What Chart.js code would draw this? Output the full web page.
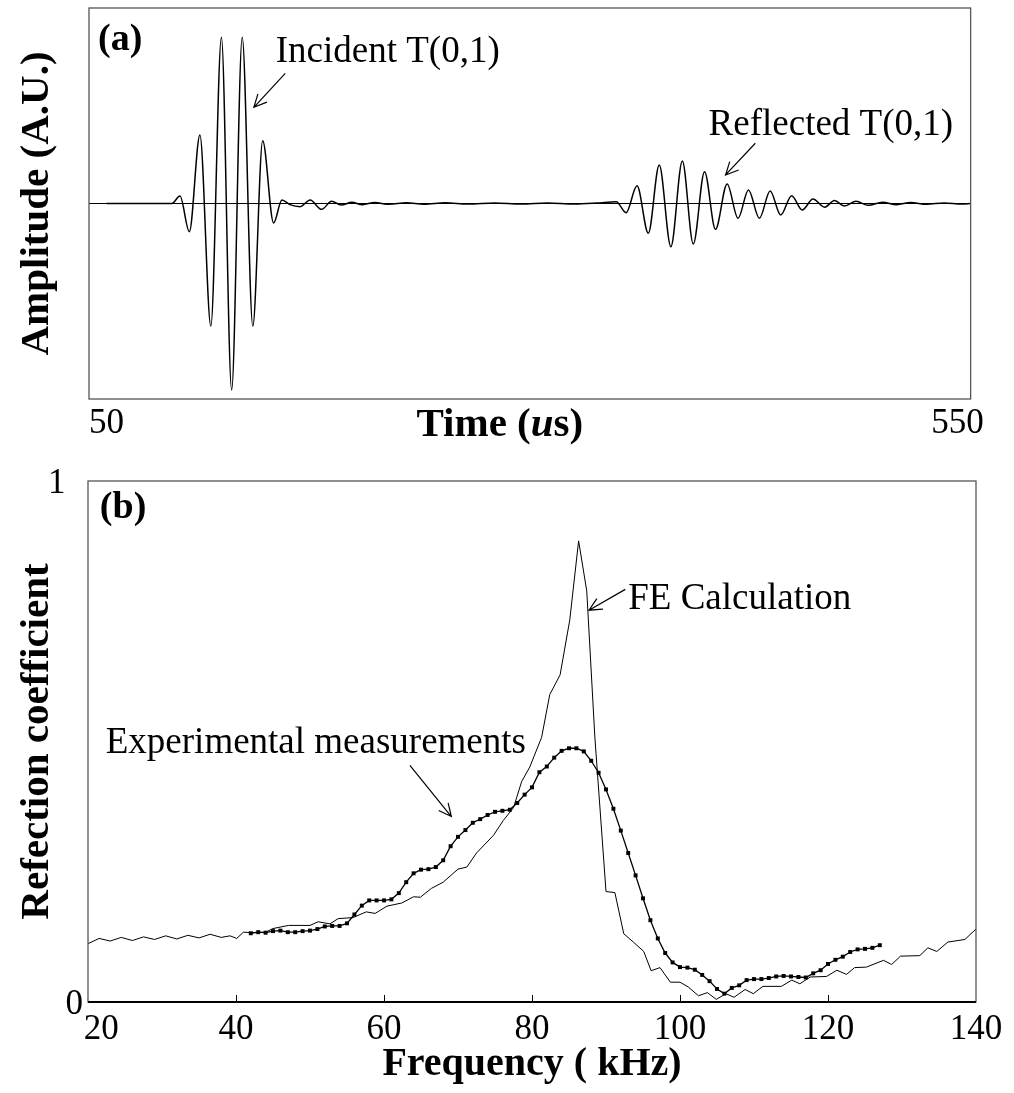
<!DOCTYPE html>
<html>
<head>
<meta charset="utf-8">
<script src="https://cdn.jsdelivr.net/npm/chart.js@4.4.1/dist/chart.umd.min.js"></script>
<style>
html, body { margin: 0; padding: 0; background: #fff; }
#wrap { position: relative; width: 1014px; height: 1093px; }
canvas { position: absolute; left: 0; }
#timeChart { top: 0; }
#freqChart { top: 455px; }
</style>
</head>
<body>
<div id="wrap">
  <canvas id="timeChart" width="1014" height="455"></canvas>
  <canvas id="freqChart" width="1014" height="638"></canvas>
</div>
<script>
const SERIF = "'Liberation Serif', 'Times New Roman', serif";
Chart.defaults.color = "#000";
Chart.defaults.font.family = SERIF;

// (a) time trace at its peaks and troughs
const timeUs = [60, 97, 101.6, 106.9, 112.9, 119.1, 125.1, 130.9, 136.9, 142.9, 148.5, 154.7, 159.4,
  164.0, 169.8, 175.4, 181.9, 187.6, 193.0, 199, 205, 212, 220, 230, 240, 252, 265, 280, 295, 310, 325, 338,
  349.0, 354.6, 360.8, 367.2, 373.4, 380.0, 386.5, 392.7, 399.1, 405.3, 411.9, 418.1, 424.0, 430.2,
  436.3, 442.3, 448.5, 454.5, 460.6, 467.2, 472.8, 478.5, 485.0, 492, 500, 508, 516, 525, 535, 545, 550];
const amplitude = [0, 0, 0.038, -0.144, 0.350, -0.627, 0.851, -0.954, 0.851, -0.627, 0.321, -0.100, 0.018,
  -0.006, -0.016, 0.018, -0.030, 0.011, -0.008, 0.006, -0.006, 0.005, -0.004, 0.004, -0.004, 0.004, -0.003, 0.003, -0.003, 0.003, -0.003, 0.002,
  0.009, -0.047, 0.091, -0.152, 0.197, -0.221, 0.217, -0.207, 0.163, -0.132, 0.100, -0.076, 0.069, -0.076,
  0.064, -0.059, 0.040, -0.033, 0.023, -0.019, 0.015, -0.013, 0.011, -0.009, 0.007, -0.006, 0.005, -0.004, 0.003, -0.003, 0];
const timeTicks = [50, 550];

// (b) reflection coefficient vs frequency
const feFreq = [20, 21.5, 23, 24.5, 26, 27.5, 29, 30.5, 32, 33.5, 35, 36.5, 38, 39.2, 40.1, 41, 42.5, 44, 45,
  47.1, 50, 51.1, 52.7, 53.8, 55.8, 57.6, 58.8, 60.4, 62.4, 64.0, 64.9, 66.4, 68.0, 70.0, 71.2, 72.5, 74.8,
  76.1, 77.5, 78.6, 79.7, 81.3, 82.4, 83.8, 85.1, 86.3, 87.4, 88.5, 90.0, 91.2, 92.4, 93.7, 95.1, 96.1, 97.3,
  98.7, 100, 101.1, 102.5, 103.7, 104.9, 106.2, 107.3, 108.8, 109.9, 111.2, 113.7, 115.1, 116.2, 117.6, 119.8,
  121.2, 122.5, 123.6, 125.2, 127.5, 128.6, 129.8, 132.4, 133.5, 134.7, 136.2, 138.5, 140];
const feRefl = [0.112, 0.122, 0.117, 0.124, 0.118, 0.125, 0.120, 0.127, 0.121, 0.128, 0.123, 0.130, 0.124, 0.127, 0.122, 0.134, 0.133, 0.134, 0.141,
  0.147, 0.147, 0.154, 0.150, 0.160, 0.162, 0.173, 0.170, 0.184, 0.190, 0.202, 0.201, 0.218, 0.230, 0.255, 0.259, 0.286, 0.320,
  0.348, 0.373, 0.423, 0.451, 0.508, 0.590, 0.628, 0.733, 0.885, 0.789, 0.507, 0.212, 0.210, 0.131, 0.115, 0.097, 0.060, 0.066,
  0.038, 0.038, 0.029, 0.012, 0.018, 0.005, 0.016, 0.009, 0.024, 0.016, 0.030, 0.030, 0.042, 0.035, 0.048, 0.049,
  0.061, 0.053, 0.066, 0.067, 0.080, 0.072, 0.088, 0.089, 0.104, 0.097, 0.115, 0.120, 0.140];
const expFreq = [42, 43, 44, 45, 46, 47, 48, 49, 50, 51, 52, 53, 54, 55, 56, 57, 58, 59, 60, 61, 62, 63, 64, 65,
  66, 67, 68, 69, 70, 71, 72, 73, 74, 75, 76, 77, 78, 79, 80, 81, 82, 83, 84, 85, 86, 87, 88, 89, 90, 91, 92,
  93, 94, 95, 96, 97, 98, 99, 100, 101, 102, 103, 104, 105, 106, 107, 108, 109, 110, 111, 112, 113, 114, 115,
  116, 117, 118, 119, 120, 121, 122, 123, 124, 125, 126, 127];
const expRefl = [0.132, 0.134, 0.133, 0.136, 0.137, 0.134, 0.134, 0.136, 0.137, 0.140, 0.145, 0.146, 0.146, 0.151,
  0.168, 0.185, 0.195, 0.195, 0.195, 0.197, 0.209, 0.230, 0.247, 0.254, 0.255, 0.259, 0.272, 0.299, 0.317, 0.330,
  0.344, 0.351, 0.359, 0.365, 0.367, 0.369, 0.382, 0.398, 0.412, 0.441, 0.452, 0.469, 0.482, 0.487, 0.487, 0.481,
  0.463, 0.440, 0.408, 0.371, 0.329, 0.286, 0.243, 0.199, 0.157, 0.122, 0.094, 0.076, 0.067, 0.066, 0.062, 0.052,
  0.040, 0.025, 0.016, 0.027, 0.032, 0.042, 0.044, 0.044, 0.046, 0.049, 0.050, 0.049, 0.048, 0.047, 0.055, 0.061,
  0.073, 0.081, 0.087, 0.096, 0.101, 0.102, 0.104, 0.109];
const freqTicks = [20, 40, 60, 80, 100, 120, 140];
const reflTicks = [0, 1];

function toPoints(xs, ys) {
  return xs.map((x, i) => ({ x: x, y: ys[i] }));
}

// frame round the plot area, optional heavy x axis and inner tick marks
const box = {
  id: "box",
  afterDatasetsDraw(chart, args, opts) {
    const a = chart.chartArea, ctx = chart.ctx;
    ctx.save();
    ctx.strokeStyle = "#555";
    ctx.lineWidth = 1.3;
    ctx.strokeRect(a.left, a.top, a.right - a.left, a.bottom - a.top);
    if (opts.heavyAxis) {
      ctx.strokeStyle = "#000";
      ctx.lineWidth = 2.2;
      ctx.beginPath();
      ctx.moveTo(a.left, a.bottom);
      ctx.lineTo(a.right, a.bottom);
      ctx.stroke();
      ctx.lineWidth = 1;
      const sx = chart.scales.x;
      sx.ticks.forEach(t => {
        const px = Math.round(sx.getPixelForValue(t.value)) + 0.5;
        if (px < a.left + 2 || px > a.right - 2) return;
        ctx.beginPath();
        ctx.moveTo(px, a.bottom);
        ctx.lineTo(px, a.bottom - 7);
        ctx.stroke();
      });
    }
    ctx.restore();
  }
};

// text labels and arrows placed in data units
function notes(texts, arrows) {
  return {
    id: "notes",
    afterDraw(chart) {
      const ctx = chart.ctx, sx = chart.scales.x, sy = chart.scales.y;
      ctx.save();
      ctx.fillStyle = "#000";
      ctx.strokeStyle = "#000";
      ctx.textAlign = "left";
      ctx.textBaseline = "alphabetic";
      texts.forEach(t => {
        ctx.font = t.font;
        ctx.fillText(t.text, sx.getPixelForValue(t.x), sy.getPixelForValue(t.y));
      });
      ctx.lineWidth = 1.2;
      arrows.forEach(ar => {
        const x1 = sx.getPixelForValue(ar.from[0]), y1 = sy.getPixelForValue(ar.from[1]);
        const x2 = sx.getPixelForValue(ar.to[0]), y2 = sy.getPixelForValue(ar.to[1]);
        const ang = Math.atan2(y2 - y1, x2 - x1);
        ctx.beginPath();
        ctx.moveTo(x1, y1);
        ctx.lineTo(x2, y2);
        ctx.moveTo(x2 - 14 * Math.cos(ang - 0.45), y2 - 14 * Math.sin(ang - 0.45));
        ctx.lineTo(x2, y2);
        ctx.lineTo(x2 - 14 * Math.cos(ang + 0.45), y2 - 14 * Math.sin(ang + 0.45));
        ctx.stroke();
      });
      ctx.restore();
    }
  };
}

// "Time (us)" with an italic u, on the tick-label line
const timeTitle = {
  id: "timeTitle",
  afterDraw(chart) {
    const ctx = chart.ctx, a = chart.chartArea, sx = chart.scales.x;
    const parts = [["Time (", "bold 41px " + SERIF], ["u", "italic bold 41px " + SERIF], ["s)", "bold 41px " + SERIF]];
    ctx.save();
    let w = 0;
    parts.forEach(p => { ctx.font = p[1]; w += ctx.measureText(p[0]).width; });
    let x = sx.getPixelForValue(283) - w / 2;
    ctx.fillStyle = "#000";
    ctx.textAlign = "left";
    ctx.textBaseline = "alphabetic";
    parts.forEach(p => {
      ctx.font = p[1];
      ctx.fillText(p[0], x, a.bottom + 37);
      x += ctx.measureText(p[0]).width;
    });
    ctx.restore();
  }
};

new Chart(document.getElementById("timeChart"), {
  type: "line",
  data: {
    datasets: [{
      data: toPoints(timeUs, amplitude),
      borderColor: "#000",
      borderWidth: 1.5,
      pointRadius: 0,
      cubicInterpolationMode: "monotone",
      fill: false
    }]
  },
  options: {
    responsive: false,
    animation: false,
    events: [],
    layout: { padding: { top: 8, right: 37, left: 0, bottom: 0 } },
    plugins: { legend: { display: false }, tooltip: { enabled: false }, box: {} },
    scales: {
      x: {
        type: "linear", min: 50, max: 550,
        afterBuildTicks: s => { s.ticks = timeTicks.map(v => ({ value: v })); },
        afterFit: s => { s.height = 56; },
        ticks: {
          font: { size: 35 }, color: "#000", padding: 4, maxRotation: 0, autoSkip: false,
          callback: v => (v === 50 ? "    50" : "550   ")
        },
        grid: { display: false, drawTicks: false },
        border: { display: false }
      },
      y: {
        min: -1, max: 1,
        afterBuildTicks: s => { s.ticks = [{ value: 0 }]; },
        afterFit: s => { s.width = 89; },
        ticks: { display: false },
        grid: { color: "#000", lineWidth: 1, drawTicks: false },
        border: { display: false },
        title: {
          display: true, text: "Amplitude (A.U.)", color: "#000",
          font: { size: 41, weight: "bold" }, padding: { top: 13, bottom: 0 }
        }
      }
    }
  },
  plugins: [box, timeTitle, notes(
    [
      { text: "(a)", x: 55.1, y: 0.785, font: "bold 38px " + SERIF },
      { text: "Incident T(0,1)", x: 155.9, y: 0.724, font: "37px " + SERIF },
      { text: "Reflected T(0,1)", x: 401.4, y: 0.350, font: "37px " + SERIF }
    ],
    [
      { from: [161.3, 0.666], to: [143.5, 0.492] },
      { from: [427.9, 0.308], to: [411.0, 0.146] }
    ]
  )]
});

new Chart(document.getElementById("freqChart"), {
  type: "line",
  data: {
    datasets: [
      {
        label: "FE Calculation",
        data: toPoints(feFreq, feRefl),
        borderColor: "#000",
        borderWidth: 1,
        pointRadius: 0,
        tension: 0,
        fill: false
      },
      {
        label: "Experimental measurements",
        data: toPoints(expFreq, expRefl),
        borderColor: "#000",
        borderWidth: 1.3,
        pointStyle: "rect",
        pointRadius: 2.8,
        pointBorderWidth: 0,
        pointBackgroundColor: "#000",
        tension: 0,
        fill: false
      }
    ]
  },
  options: {
    responsive: false,
    animation: false,
    events: [],
    layout: { padding: { top: 10, right: 38, left: 0, bottom: 0 } },
    plugins: { legend: { display: false }, tooltip: { enabled: false }, box: { heavyAxis: true } },
    scales: {
      x: {
        type: "linear", min: 20, max: 140,
        afterBuildTicks: s => { s.ticks = freqTicks.map(v => ({ value: v })); },
        afterFit: s => { s.height = 91; },
        ticks: {
          font: { size: 35 }, color: "#000", padding: 7, maxRotation: 0, autoSkip: false,
          callback: v => (v === 20 ? "   20" : String(v))
        },
        grid: { display: false, drawTicks: false },
        border: { display: false },
        title: {
          display: true, text: "Frequency ( kHz)", color: "#000",
          font: { size: 40, weight: "bold" }, padding: { top: 0, bottom: 4 }
        }
      },
      y: {
        min: 0, max: 1,
        afterBuildTicks: s => { s.ticks = reflTicks.map(v => ({ value: v })); },
        afterFit: s => { s.width = 88; },
        ticks: {
          font: { size: 35 }, color: "#000", padding: 5, labelOffset: 3,
          callback: v => (v === 1 ? "1  " : "0")
        },
        grid: { display: false, drawTicks: false },
        border: { display: false },
        title: {
          display: true, text: "Refection coefficient", color: "#000",
          font: { size: 41, weight: "bold" }, padding: { top: 13, bottom: 0 }
        }
      }
    }
  },
  plugins: [box, notes(
    [
      { text: "(b)", x: 21.6, y: 0.929, font: "bold 38px " + SERIF },
      { text: "FE Calculation", x: 93.0, y: 0.754, font: "37px " + SERIF },
      { text: "Experimental measurements", x: 22.4, y: 0.477, font: "37px " + SERIF }
    ],
    [
      { from: [92.6, 0.792], to: [87.7, 0.752] },
      { from: [63.5, 0.454], to: [69.1, 0.356] }
    ]
  )]
});
</script>
</body>
</html>
